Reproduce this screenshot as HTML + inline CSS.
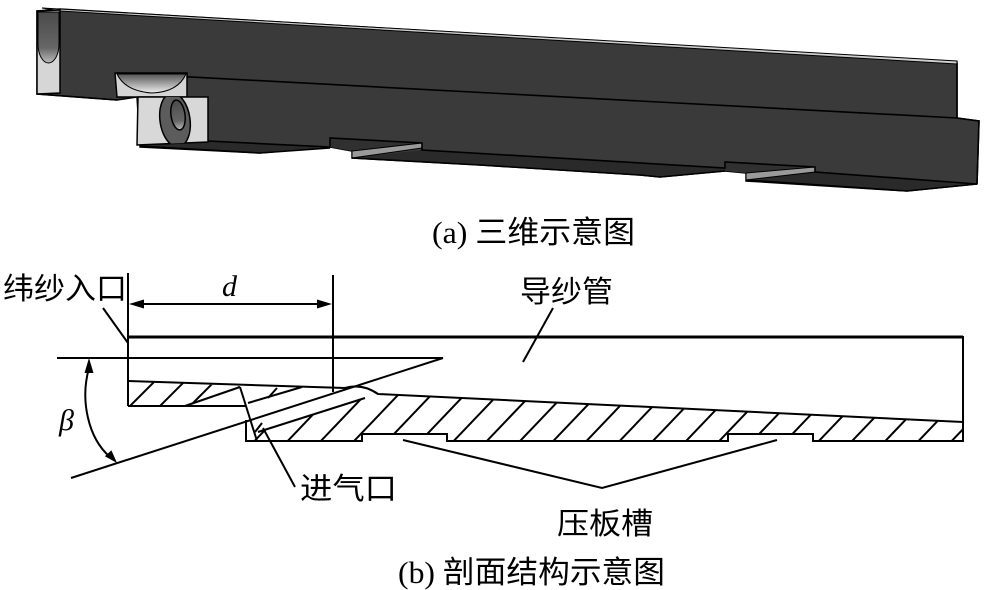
<!DOCTYPE html>
<html><head><meta charset="utf-8"><style>
html,body{margin:0;padding:0;background:#fff;}
svg{display:block;}
.cjk{font-family:"Liberation Sans","Noto Sans CJK SC",sans-serif;font-size:30px;fill:#000;}
.cap{font-family:"Liberation Serif","Noto Sans CJK SC",serif;font-size:31px;fill:#000;}
.it{font-family:"Liberation Serif",serif;font-style:italic;font-size:30px;fill:#000;}
</style></head><body>
<svg width="1000" height="590" viewBox="0 0 1000 590" xmlns="http://www.w3.org/2000/svg">
<defs>
<linearGradient id="g1" x1="0" y1="0" x2="0" y2="1">
<stop offset="0" stop-color="#555"/><stop offset="1" stop-color="#eee"/>
</linearGradient>
<linearGradient id="g2" x1="0" y1="0" x2="0" y2="1">
<stop offset="0" stop-color="#4a4a4a"/><stop offset="0.7" stop-color="#666"/><stop offset="1" stop-color="#bbb"/>
</linearGradient>
<clipPath id="blk"><polygon points="138,97 208,97 208,142 137,145"/></clipPath>
<clipPath id="clipL"><polygon points="128,381 240,386 185,406 128,406"/></clipPath>
<clipPath id="clipR"><polygon points="247,441 247,436 258,432 365,398 378,394 963,422 963,441 813,441 813,434 728,434 728,441 447,441 447,434 362,434 362,441"/></clipPath>
</defs>
<rect width="1000" height="590" fill="#fff"/>

<!-- ===== 3D view ===== -->
<polygon points="37,11 60,9 957,62 957,118 979,121 977,184 907,191 746,181 746,173 725,171 660,177 640,175 480,165 352,158 352,151 330,147 260,153 140,147 137,97 117,100 37,94" fill="#3a3a3a" stroke="#000" stroke-width="1.5"/>
<!-- bottom faces -->
<polygon points="140,146 208,141 330,147 260,153" fill="#2a2a2a"/>
<polygon points="352,158 422,150 725,168 725,171 660,177 640,175 480,165" fill="#2a2a2a"/>
<polygon points="746,180 815,172 977,184 907,191" fill="#2a2a2a"/>
<!-- slots -->
<polygon points="330,138 422,143 352,151 330,147" fill="#303030"/>
<polygon points="352,151 422,143 422,148 352,158" fill="#9a9a9a" stroke="#000" stroke-width="1"/>
<polygon points="725,162 815,167 746,173 725,171" fill="#303030"/>
<polygon points="746,173 815,167 815,172 746,180" fill="#9a9a9a" stroke="#000" stroke-width="1"/>
<!-- edge lines -->
<g stroke="#000" stroke-width="1.6" fill="none">
<polyline points="208,141 330,147 330,138 422,143 422,150 725,168 725,162 815,167 815,172 977,184"/>
<polyline points="140,146 260,153 330,148"/>
<polyline points="352,158 480,165 640,175 660,177 725,171"/>
<polyline points="746,180 907,191 977,184"/>
<line x1="957" y1="63" x2="957" y2="118"/>
<polyline points="117,73 957,118 979,121 977,184"/>
<line x1="37" y1="94" x2="117" y2="100"/>
</g>
<!-- top light strip -->
<polygon points="42,8 957,61 957,64 60,11" fill="#cfcfcf" stroke="#000" stroke-width="1"/>
<!-- left end face of upper beam -->
<polygon points="37,11 60,10 60,93 37,94" fill="#d6d6d6" stroke="#000" stroke-width="1.5"/>
<path d="M38,12 L59,12 L59,44 A10.5,19 0 0 1 38,44 Z" fill="url(#g2)" stroke="#000" stroke-width="1"/>
<!-- small curved block -->
<polygon points="115,73 187,73 187,97 117,97" fill="#d4d4d4" stroke="#000" stroke-width="1.5"/>
<path d="M117,74 L186,74 Q178,92 152,93 Q125,91 117,74 Z" fill="url(#g1)" stroke="#000" stroke-width="1"/>
<!-- lower front block with oval hole -->
<polygon points="138,97 208,97 208,142 137,145" fill="#d8d8d8" stroke="#000" stroke-width="1.5"/>
<g clip-path="url(#blk)">
<ellipse cx="175" cy="120" rx="15" ry="27" transform="rotate(-8 175 120)" fill="#5c5c5c" stroke="#000" stroke-width="1.5"/>
<ellipse cx="178" cy="115" rx="7" ry="15" transform="rotate(-8 178 115)" fill="url(#g2)" stroke="#000" stroke-width="1.5"/>
</g>

<!-- caption a -->
<text class="cap" x="432" y="243" textLength="203" lengthAdjust="spacingAndGlyphs">(a) 三维示意图</text>

<!-- ===== Section view ===== -->
<!-- hatching -->
<g stroke="#000" stroke-width="2" clip-path="url(#clipL)">
<line x1="125" y1="411" x2="160" y2="376"/>
<line x1="155" y1="411" x2="190" y2="376"/>
<line x1="185" y1="411" x2="220" y2="376"/>
<line x1="215" y1="411" x2="250" y2="376"/>
</g>
<g stroke="#000" stroke-width="2" clip-path="url(#clipR)">
<line x1="235.4" y1="461" x2="340.4" y2="351"/>
<line x1="268.6" y1="461" x2="373.6" y2="351"/>
<line x1="301.8" y1="461" x2="406.8" y2="351"/>
<line x1="335" y1="461" x2="440" y2="351"/>
<line x1="368.2" y1="461" x2="473.2" y2="351"/>
<line x1="401.4" y1="461" x2="506.4" y2="351"/>
<line x1="434.6" y1="461" x2="539.6" y2="351"/>
<line x1="467.8" y1="461" x2="572.8" y2="351"/>
<line x1="501" y1="461" x2="606" y2="351"/>
<line x1="534.2" y1="461" x2="639.2" y2="351"/>
<line x1="567.4" y1="461" x2="672.4" y2="351"/>
<line x1="600.6" y1="461" x2="705.6" y2="351"/>
<line x1="633.8" y1="461" x2="738.8" y2="351"/>
<line x1="667" y1="461" x2="772" y2="351"/>
<line x1="700.2" y1="461" x2="805.2" y2="351"/>
<line x1="733.4" y1="461" x2="838.4" y2="351"/>
<line x1="766.6" y1="461" x2="871.6" y2="351"/>
<line x1="799.8" y1="461" x2="904.8" y2="351"/>
<line x1="833" y1="461" x2="938" y2="351"/>
<line x1="866.2" y1="461" x2="971.2" y2="351"/>
<line x1="899.4" y1="461" x2="1004.4" y2="351"/>
<line x1="932.6" y1="461" x2="1037.6" y2="351"/>
<line x1="965.8" y1="461" x2="1070.8" y2="351"/>
</g>

<g stroke="#000" stroke-width="2" fill="none">
<!-- extension lines -->
<line x1="128" y1="273" x2="128" y2="406"/>
<line x1="333" y1="275" x2="333" y2="392"/>
<!-- dimension line -->
<line x1="135" y1="304" x2="326" y2="304"/>
<!-- tube -->
<line x1="128" y1="337" x2="963" y2="337" stroke-width="3"/>
<line x1="963" y1="336" x2="963" y2="442"/>
<path d="M128,381 L345,388 Q362,383 378,394 L963,422"/>
<line x1="128" y1="406" x2="246" y2="406"/>
<polyline points="246,420 246,441 362,441 362,434 447,434 447,441 728,441 728,434 813,434 813,441 963,441"/>
<!-- channel -->
<line x1="185" y1="406" x2="240" y2="387"/>
<line x1="240" y1="387" x2="257" y2="441"/>
<line x1="248" y1="403" x2="302" y2="387"/>
<line x1="268" y1="398" x2="277" y2="388"/>
<line x1="258" y1="432" x2="365" y2="398"/>
<line x1="255" y1="432" x2="262" y2="423"/>
<!-- reference lines -->
<line x1="57" y1="358" x2="443" y2="358"/>
<line x1="443" y1="358" x2="71" y2="478"/>
<!-- leaders -->
<line x1="103" y1="308" x2="128" y2="343"/>
<line x1="553" y1="308" x2="523" y2="362"/>
<line x1="263" y1="428" x2="295" y2="487"/>
<polyline points="403,440 602,488 777,440"/>
<!-- beta arc -->
<path d="M89,368 C80,400 88,438 110,457"/>
</g>
<!-- arrowheads -->
<polygon points="129,304 144,299.5 144,308.5" fill="#000"/>
<polygon points="332,304 317,299.5 317,308.5" fill="#000"/>
<polygon points="89,358 84.5,373 93.5,373" fill="#000"/>
<polygon points="117,463 111.4,450.2 104.9,456.3" fill="#000"/>

<!-- labels -->
<text class="cjk" x="3" y="299" textLength="124" lengthAdjust="spacingAndGlyphs">纬纱入口</text>
<text class="cjk" x="520" y="302" textLength="93" lengthAdjust="spacingAndGlyphs">导纱管</text>
<text class="cjk" x="300" y="499" textLength="97" lengthAdjust="spacingAndGlyphs">进气口</text>
<text class="cjk" x="557" y="534" textLength="96" lengthAdjust="spacingAndGlyphs">压板槽</text>
<text class="it" x="222" y="296">d</text>
<text class="it" x="59" y="430">β</text>

<!-- caption b -->
<text class="cap" x="398" y="583" textLength="267" lengthAdjust="spacingAndGlyphs">(b) 剖面结构示意图</text>
</svg>
</body></html>
